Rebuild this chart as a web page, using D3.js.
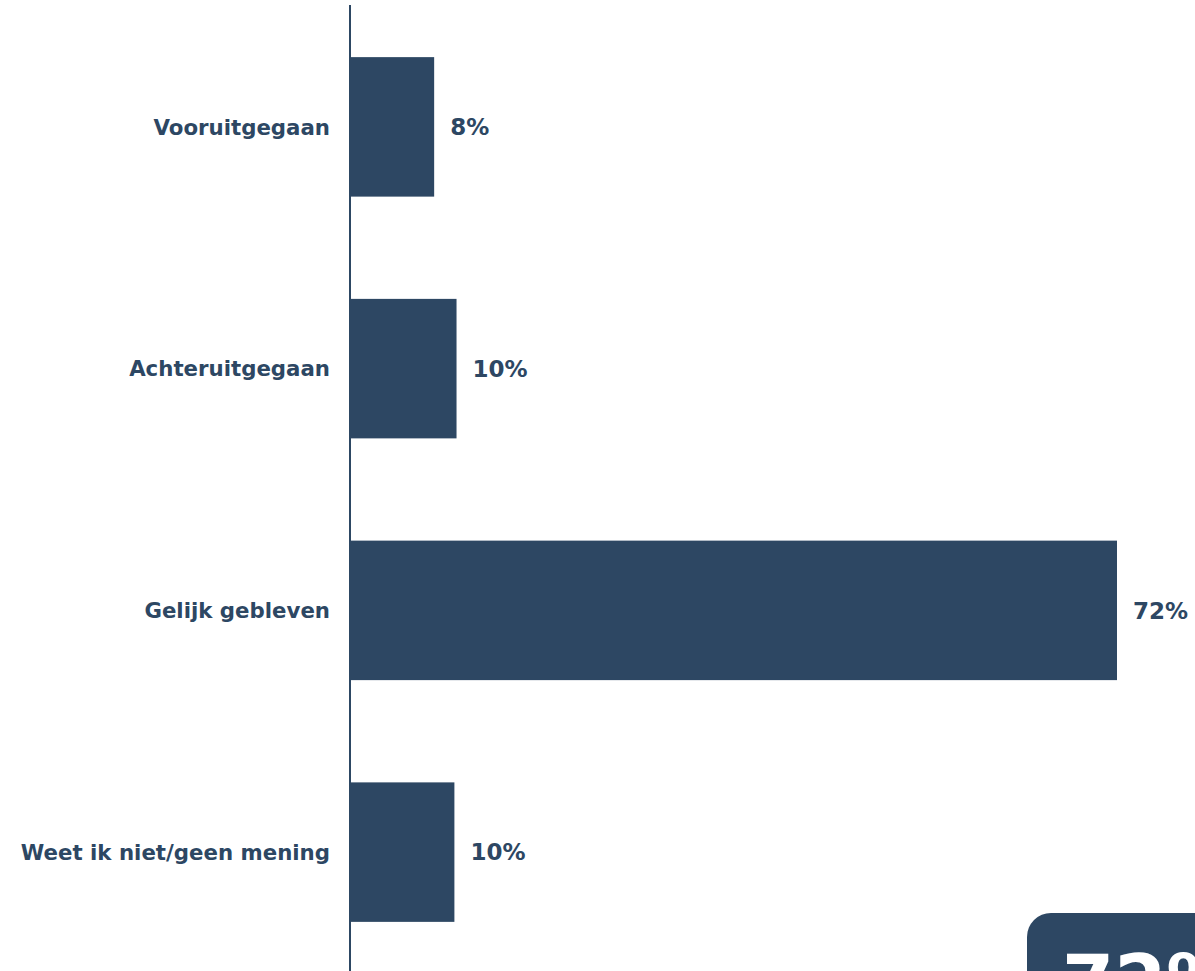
<html>

<head>
    <script src="https://d3js.org/d3.v7.min.js"></script>
    <style>
        body { margin: 0; background: #fff; }
        text { font-family: Verdana, "DejaVu Sans", sans-serif; font-weight: bold; }
    </style>
</head>

<body>
    <div id="chart">
        <svg width="1195" height="971"></svg>
    </div>
    <script>
        // data
        var categories = ['Vooruitgegaan', 'Achteruitgegaan', 'Gelijk gebleven', 'Weet ik niet/geen mening']
        var values = [7.9, 10.0, 72.0, 9.8]
        var highlight = '72%'

        var color = '#2d4763'
        var svg = d3.select('#chart svg')

        var xScale = d3.scaleLinear()
            .domain([0, 72])
            .range([350, 1117])
        var yScale = d3.scaleBand()
            .domain(categories)
            .range([6, 973])
            .paddingInner(0.423)
            .paddingOuter(0.2115)

        var data = categories.map(function(c, i) {
            return { cat: c, val: values[i] }
        })

        svg.selectAll('rect.bar')
            .data(data)
            .enter()
            .append('rect')
            .classed('bar', true)
            .attr('x', xScale(0))
            .attr('y', function(d) { return yScale(d.cat) })
            .attr('width', function(d) { return xScale(d.val) - xScale(0) })
            .attr('height', yScale.bandwidth())
            .style('fill', color)

        // value labels
        svg.selectAll('text.value')
            .data(data)
            .enter()
            .append('text')
            .classed('value', true)
            .attr('x', function(d) { return xScale(d.val) + 16 })
            .attr('y', function(d) { return yScale(d.cat) + yScale.bandwidth() / 2 })
            .attr('dy', '0.36em')
            .style('font-size', '23px')
            .style('fill', color)
            .text(function(d) { return d3.format('.0f')(d.val) + '%' })

        // category axis
        var catAxis = d3.axisLeft(yScale).tickSize(0).tickPadding(20)
        var g = svg.append('g')
            .attr('transform', 'translate(' + xScale(0) + ', 0)')
            .call(catAxis)
        g.select('.domain').remove()
        g.selectAll('text')
            .attr('dy', '0.36em')
            .style('font-size', '21.3px')
            .style('font-family', 'Verdana, "DejaVu Sans", sans-serif')
            .style('fill', color)
        svg.append('line')
            .attr('x1', xScale(0)).attr('x2', xScale(0))
            .attr('y1', 5).attr('y2', 971)
            .style('stroke', color)
            .style('stroke-width', 2)

        // callout box bottom right (cut off by the frame, as in the original)
        svg.append('rect')
            .attr('x', 1027)
            .attr('y', 913)
            .attr('width', 260)
            .attr('height', 140)
            .attr('rx', 24)
            .style('fill', color)
        svg.append('text')
            .attr('x', 1062)
            .attr('y', 953 + 0.729 * 75)
            .style('font-size', '75px')
            .style('fill', '#fff')
            .text(highlight)
    </script>
</body>

</html>
